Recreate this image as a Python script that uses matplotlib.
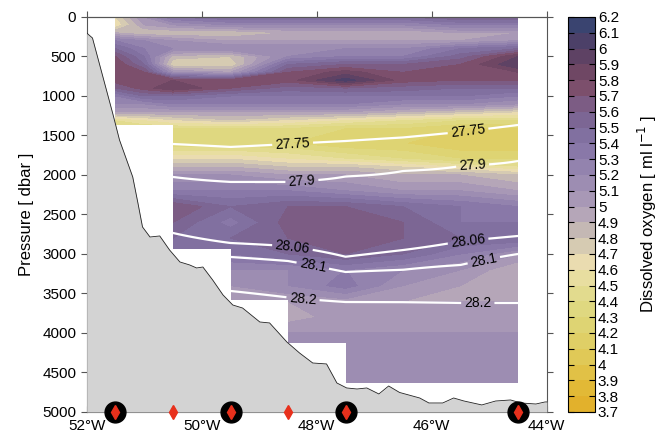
import numpy as np
import matplotlib
matplotlib.use('Agg')
import matplotlib.pyplot as plt
from matplotlib.colors import ListedColormap, BoundaryNorm
from matplotlib.patches import Polygon

plt.rcParams['font.family'] = ['Liberation Sans', 'DejaVu Sans']

# Colour classes of dissolved oxygen (ml/l)
o2_levels = np.round(np.arange(3.7, 6.25, 0.1), 1)
o2_colors = ['#E2B12C', '#E2B936', '#E1C146', '#E0C957', '#DFCF66', '#DED473',
             '#DFD880', '#E2DB8E', '#E8DEA0', '#EADCB0', '#D6CBB2', '#C4B8B4',
             '#B5A6B8', '#A898B6', '#9D8DB2', '#9383AE', '#8978A8', '#8170A0',
             '#7C6694', '#7C5C84', '#7C4F6C', '#6F4764', '#5E4264', '#4C4068',
             '#3A4470']

grid_lon = [-51.5, -51.0, -50.5, -49.5, -48.5, -47.5, -46.5, -45.5, -44.5]
grid_p = [0, 100, 200, 300, 400, 500, 600, 700, 800, 900, 1000, 1100, 1200, 1300,
          1400, 1600, 1800, 1900, 2000, 2200, 2400, 2600, 2800, 3000, 3200, 3400,
          3600, 3800, 4000, 4200, 4400, 4650]
oxygen = [
    [4.7, 5.1, 5.4, 5.5, 5.5, 5.5, 5.5, 5.6, 5.6],
    [4.6, 5.0, 5.1, 5.2, 5.2, 5.2, 5.2, 5.3, 5.3],
    [4.9, 4.8, 4.8, 4.8, 4.9, 4.9, 4.9, 5.0, 5.0],
    [5.3, 5.2, 5.1, 5.0, 5.0, 5.0, 5.0, 5.0, 5.1],
    [5.5, 5.3, 5.2, 5.2, 5.2, 5.2, 5.2, 5.4, 5.5],
    [5.7, 5.4, 4.85, 4.8, 5.2, 5.3, 5.3, 5.55, 5.9],
    [5.8, 5.5, 4.7, 4.7, 5.5, 5.6, 5.6, 5.7, 6.0],
    [5.8, 5.7, 5.1, 5.0, 5.7, 5.85, 5.7, 5.75, 5.8],
    [5.75, 5.75, 5.8, 5.75, 5.75, 6.05, 5.75, 5.7, 5.7],
    [5.6, 5.75, 5.9, 5.7, 5.55, 5.6, 5.55, 5.5, 5.5],
    [5.3, 5.5, 5.5, 5.4, 5.4, 5.4, 5.4, 5.4, 5.3],
    [5.2, 5.2, 5.3, 5.3, 5.3, 5.3, 5.2, 5.2, 5.1],
    [5.0, 5.0, 5.0, 5.0, 5.0, 5.0, 4.9, 4.8, 4.7],
    [4.5, 4.6, 4.7, 4.8, 4.7, 4.6, 4.5, 4.4, 4.4],
    [4.4, 4.4, 4.4, 4.4, 4.4, 4.3, 4.3, 4.2, 4.2],
    [4.3, 4.3, 4.3, 4.3, 4.3, 4.2, 4.2, 4.1, 4.1],
    [4.5, 4.6, 4.7, 4.7, 4.6, 4.5, 4.4, 4.3, 4.3],
    [4.8, 4.9, 4.9, 4.9, 4.8, 4.8, 4.7, 4.6, 4.5],
    [5.0, 5.1, 5.1, 5.1, 5.0, 5.0, 4.9, 4.9, 4.8],
    [5.2, 5.3, 5.3, 5.3, 5.3, 5.2, 5.1, 5.1, 5.0],
    [5.5, 5.6, 5.7, 5.5, 5.6, 5.6, 5.5, 5.4, 5.3],
    [5.5, 5.6, 5.6, 5.35, 5.65, 5.7, 5.6, 5.4, 5.4],
    [5.5, 5.5, 5.5, 5.5, 5.6, 5.7, 5.6, 5.5, 5.5],
    [5.4, 5.4, 5.4, 5.4, 5.5, 5.6, 5.5, 5.3, 5.1],
    [5.2, 5.2, 5.2, 5.2, 5.2, 5.3, 5.2, 5.1, 4.9],
    [5.1, 5.1, 5.1, 5.1, 5.2, 5.35, 5.1, 5.0, 5.0],
    [5.0, 5.0, 5.0, 5.0, 5.0, 5.05, 5.0, 5.0, 5.0],
    [5.0, 5.0, 5.0, 5.0, 4.95, 5.05, 5.05, 5.05, 5.05],
    [5.1, 5.1, 5.1, 5.1, 5.1, 5.1, 5.1, 5.1, 5.1],
    [5.1, 5.1, 5.1, 5.1, 5.15, 5.15, 5.15, 5.15, 5.15],
    [5.15, 5.15, 5.15, 5.15, 5.15, 5.15, 5.15, 5.15, 5.15],
    [5.15, 5.15, 5.15, 5.15, 5.15, 5.15, 5.15, 5.15, 5.15],
]

# Isopycnals: pressure of each sigma level at the grid longitudes
sigma_levels = [27.75, 27.9, 28.06, 28.1, 28.2]
iso_p = [
    [1600, 1604, 1608, 1645, 1608, 1570, 1525, 1455, 1367],
    [2025, 2025, 2025, 2088, 2088, 2019, 1949, 1886, 1823],
    [2734, 2734, 2734, 2861, 2900, 3035, 2950, 2840, 2772],
    [2990, 2990, 2990, 3038, 3089, 3228, 3200, 3139, 3000],
    [3400, 3400, 3400, 3468, 3550, 3608, 3610, 3620, 3620],
]
label_pos = [(-48.42, 1600), (-45.37, 1440), (-48.26, 2063), (-45.29, 1886),
             (-48.42, 2900), (-45.37, 2830), (-48.07, 3150), (-45.10, 3060),
             (-48.24, 3570), (-45.20, 3625)]

# CTD casts: longitude and deepest sampled pressure
cast_lon = [-51.5, -50.5, -49.5, -48.5, -47.5, -44.5]
cast_maxp = [1370, 2940, 3580, 4130, 4630, 4630]
big_station_lon = [-51.5, -49.5, -47.5, -44.5]

# Bathymetry
bathy_lon = [-52.0, -51.90, -51.55, -51.43, -51.20, -51.11, -51.03, -50.90, -50.73,
             -50.56, -50.38, -50.21, -50.09, -49.98, -49.81, -49.63, -49.46, -49.29,
             -48.99, -48.82, -48.52, -48.30, -48.07, -47.83, -47.65, -47.48, -47.30,
             -47.13, -46.92, -46.75, -46.56, -46.21, -46.05, -45.81, -45.62, -45.44,
             -45.13, -44.89, -44.63, -44.45, -44.19, -44.03, -44.0]
bathy_p = [203, 266, 1215, 1557, 2025, 2354, 2658, 2785, 2772, 2949, 3101, 3139,
           3177, 3165, 3329, 3519, 3646, 3684, 3861, 3873, 4114, 4253, 4380, 4392,
           4633, 4696, 4709, 4696, 4772, 4671, 4753, 4823, 4886, 4886, 4823, 4861,
           4911, 4861, 4848, 4886, 4899, 4873, 4873]

fig = plt.figure(figsize=(6.62, 4.41), dpi=100)
ax = fig.add_axes([0.131, 0.0658, 0.695, 0.8957])
ax.set_xlim(-52, -44)
ax.set_ylim(5000, 0)

cmap = ListedColormap(o2_colors)
norm = BoundaryNorm(o2_levels, cmap.N)
cf = ax.contourf(grid_lon, grid_p, np.array(oxygen), levels=o2_levels,
                 cmap=cmap, norm=norm, antialiased=False)

# step-shaped outline of the sampled region
verts = [(cast_lon[0], 0)]
for i in range(len(cast_lon) - 1):
    verts.append((cast_lon[i], cast_maxp[i]))
    verts.append((cast_lon[i + 1], cast_maxp[i]))
verts.append((cast_lon[-1], 0))
clip = Polygon(verts, closed=True, transform=ax.transData, facecolor='none',
               edgecolor='none')
ax.add_patch(clip)
cf.set_clip_path(clip)

# density field per column (linear in pressure, extended beyond the end levels)
p_fine = np.arange(2.5, 5000, 5.0)
iso_arr = np.array(iso_p, dtype=float)
cols = []
for j in range(len(grid_lon)):
    d = iso_arr[:, j]
    s_top = sigma_levels[0] - (sigma_levels[1] - sigma_levels[0]) / (d[1] - d[0]) * d[0]
    s_bot = sigma_levels[-1] + (sigma_levels[-1] - sigma_levels[-2]) / (d[-1] - d[-2]) * (5000 - d[-1])
    cols.append(np.interp(p_fine, np.r_[0, d, 5000], np.r_[s_top, sigma_levels, s_bot]))
sigma = np.column_stack(cols)
cs = ax.contour(grid_lon, p_fine, sigma, levels=sigma_levels, colors='white',
                linewidths=1.6)
ax.clabel(cs, fmt='%g', fontsize=10, colors='black', inline=True,
          inline_spacing=3, manual=label_pos)
cs.set_clip_path(clip)

ax.fill_between(bathy_lon, bathy_p, 5000, color='#D3D3D3', zorder=3, lw=0)
ax.plot(bathy_lon, bathy_p, color='#222222', lw=0.6, zorder=4)

ax.plot(big_station_lon, [5000] * len(big_station_lon), 'o', color='black',
        ms=15, zorder=5, clip_on=False)
ax.plot(cast_lon, [5000] * len(cast_lon), 'd', color='#E8301C', ms=7,
        zorder=6, clip_on=False)

xticks = [-52, -50, -48, -46, -44]
ax.set_xticks(xticks)
ax.set_xticklabels(['%d°W' % -t for t in xticks])
ax.set_yticks(np.arange(0, 5001, 500))
ax.set_ylabel('Pressure [ dbar ]', fontsize=12, labelpad=6)
ax.tick_params(axis='y', direction='out', length=4, labelsize=11, right=True,
               color='#555555')
ax.tick_params(axis='x', direction='in', length=4, labelsize=11, color='#555555',
               pad=5)
top = ax.secondary_xaxis('top')
top.set_xticks(xticks)
top.tick_params(direction='out', length=4, labeltop=False, color='#555555')
for s in ax.spines.values():
    s.set_color('#555555')
    s.set_linewidth(0.8)
top.spines['top'].set_color('#555555')

cax = fig.add_axes([0.858, 0.0658, 0.041, 0.8957])
cb = fig.colorbar(cf, cax=cax, ticks=o2_levels)
cb.ax.set_yticklabels(['%g' % v for v in o2_levels])
cb.ax.tick_params(direction='in', length=4, left=True, right=True, labelsize=11,
                  pad=2)
cb.outline.set_linewidth(0.8)
cb.set_label('Dissolved oxygen [ ml l$^{-1}$ ]', fontsize=12, labelpad=12)

fig.savefig('out.png', dpi=100)
